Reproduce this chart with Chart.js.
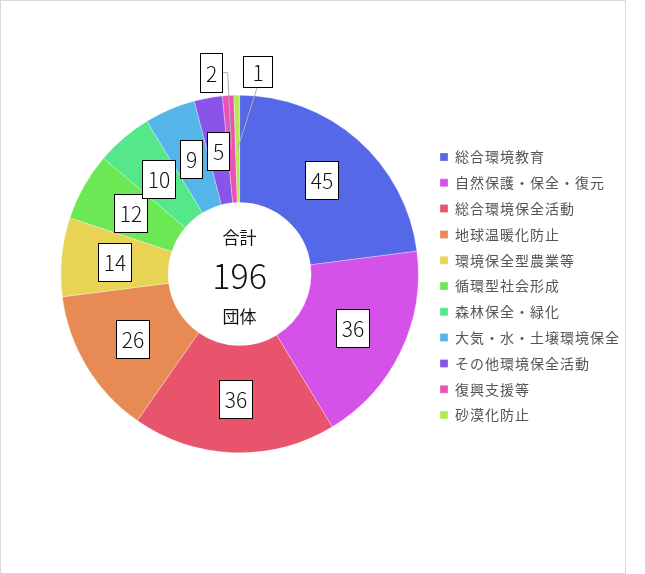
<!DOCTYPE html>
<html lang="ja">
<head>
<meta charset="utf-8">
<script src="https://cdn.jsdelivr.net/npm/chart.js@4.4.1/dist/chart.umd.min.js"></script>
<style>
  html, body { margin: 0; padding: 0; background: #fff; }
  #wrap { position: absolute; left: 0; top: 0; width: 626px; height: 574px; border: 1px solid #d9d9d9; box-sizing: border-box; }
  #wrap canvas { display: block; }
</style>
</head>
<body>
<div id="wrap"><canvas id="c" width="624" height="572"></canvas></div>
<script>
const categories = ['総合環境教育', '自然保護・保全・復元', '総合環境保全活動', '地球温暖化防止', '環境保全型農業等', '循環型社会形成', '森林保全・緑化', '大気・水・土壌環境保全', 'その他環境保全活動', '復興支援等', '砂漠化防止'];
const values = [45, 36, 36, 26, 14, 12, 10, 9, 5, 2, 1];
const colors = ['#5468E8', '#D452E8', '#E8546C', '#E88A54', '#E8D354', '#6BE854', '#54E88B', '#54B5E8', '#8B54E8', '#E854B5', '#B5E854'];
const centerTop = '合計';
const centerBottom = '団体';

const FONT = '"Noto Sans CJK JP", "Noto Sans", sans-serif';

const legendSpacing = {
  id: 'legendSpacing',
  beforeUpdate(chart) { chart.ctx.letterSpacing = '0px'; },
  beforeDraw(chart) { chart.ctx.letterSpacing = '1px'; },
  beforeDatasetsDraw(chart) { chart.ctx.letterSpacing = '0px'; }
};

const sliceLabels = {
  id: 'sliceLabels',
  afterDatasetsDraw(chart, args, opts) {
    const ctx = chart.ctx;
    const meta = chart.getDatasetMeta(0);
    ctx.save();
    ctx.letterSpacing = '0px';
    ctx.font = '300 21px ' + FONT;
    ctx.textAlign = 'center';
    ctx.textBaseline = 'middle';
    meta.data.forEach((arc, i) => {
      const p = arc.getProps(['x', 'y', 'startAngle', 'endAngle', 'innerRadius', 'outerRadius'], true);
      const mid = (p.startAngle + p.endAngle) / 2;
      const rMid = (p.innerRadius + p.outerRadius) / 2;
      const cpx = p.x + Math.cos(mid) * rMid;
      const cpy = p.y + Math.sin(mid) * rMid;
      const text = String(values[i]);
      const tw = ctx.measureText(text).width;
      let w = tw + 11, h = 38;
      let lx = cpx, ly = cpy;
      const co = opts.callouts[i];
      if (co) {
        if (co.w) w = co.w;
        if (co.h) h = co.h;
        const ox = p.x + Math.cos(mid) * p.outerRadius;
        const oy = p.y + Math.sin(mid) * p.outerRadius;
        lx = ox + co.dx;
        ly = oy + co.dy;
        ctx.strokeStyle = '#b0b0b0';
        ctx.lineWidth = 1;
        ctx.beginPath();
        if (co.from === 'right') {
          ctx.moveTo(lx + w / 2, ly);
          ctx.lineTo(lx + w / 2 + 6, ly);
        } else {
          ctx.moveTo(lx, ly + h / 2);
        }
        ctx.lineTo(cpx, cpy);
        ctx.stroke();
      }
      const rx = Math.round(lx - w / 2) + 0.5;
      const ry = Math.round(ly - h / 2) + 0.5;
      ctx.fillStyle = '#fff';
      ctx.fillRect(rx, ry, Math.round(w), Math.round(h));
      ctx.strokeStyle = '#000';
      ctx.lineWidth = 1;
      ctx.strokeRect(rx, ry, Math.round(w), Math.round(h));
      ctx.fillStyle = '#111';
      ctx.fillText(text, rx + Math.round(w) / 2, ry + Math.round(h) / 2 + 1);
    });
    ctx.restore();
  }
};

const centerText = {
  id: 'centerText',
  afterDraw(chart) {
    const ctx = chart.ctx;
    const arc = chart.getDatasetMeta(0).data[0];
    const cx = arc.x, cy = arc.y;
    const total = values.reduce((a, b) => a + b, 0);
    ctx.save();
    ctx.letterSpacing = '0px';
    ctx.fillStyle = '#111';
    ctx.textAlign = 'center';
    ctx.textBaseline = 'middle';
    ctx.font = '400 17px ' + FONT;
    ctx.fillText(centerTop, cx, cy - 36);
    ctx.font = '300 34px ' + FONT;
    ctx.fillText(String(total), cx, cy + 2);
    ctx.font = '400 17px ' + FONT;
    ctx.fillText(centerBottom, cx, cy + 43);
    ctx.restore();
  }
};

new Chart(document.getElementById('c'), {
  type: 'doughnut',
  data: {
    labels: categories,
    datasets: [{
      data: values,
      backgroundColor: colors,
      borderColor: 'rgba(255,255,255,0.6)',
      borderWidth: 0.5
    }]
  },
  options: {
    responsive: false,
    animation: false,
    cutout: '40%',
    layout: { padding: { left: 50, right: 6, top: 94, bottom: 120 } },
    plugins: {
      tooltip: { enabled: false },
      legend: {
        position: 'right',
        title: { display: true, text: ' ', font: { size: 20, lineHeight: 1.2 }, padding: 0 },
        labels: {
          boxWidth: 8,
          boxHeight: 8,
          padding: 11.8,
          color: '#555',
          font: { family: FONT, size: 14 }
        }
      },
      sliceLabels: {
        callouts: {
          9: { dx: -17.5, dy: -23, from: 'right', w: 22, h: 39 },
          10: { dx: 20.5, dy: -23.5, from: 'bottom', w: 29, h: 31 }
        }
      }
    }
  },
  plugins: [legendSpacing, sliceLabels, centerText]
});
</script>
</body>
</html>
